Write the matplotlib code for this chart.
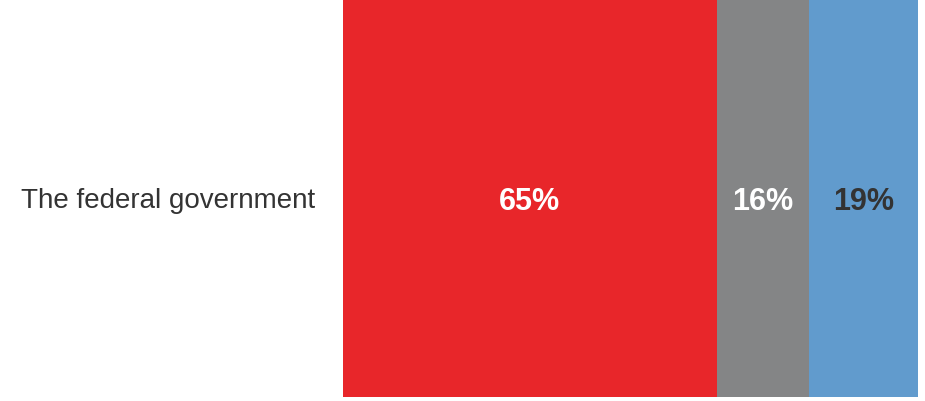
import matplotlib
matplotlib.use("Agg")
import matplotlib.pyplot as plt

plt.rcParams['font.family'] = ['Liberation Sans', 'DejaVu Sans']

# data
category = "The federal government"
shares = [65, 16, 19]
bar_colors = ['#E8262A', '#848586', '#619BCD']
text_colors = ['white', 'white', '#333333']

fig = plt.figure(figsize=(9.25, 4.01), dpi=100)
ax = fig.add_axes([343 / 925, 4 / 401, 575 / 925, 397 / 401])

left = 0
for val, col, tcol in zip(shares, bar_colors, text_colors):
    ax.barh(0, val, left=left, height=1.0, color=col, edgecolor='none')
    ax.text(left + val / 2, -0.01, f"{val}%", ha='center', va='center',
            fontsize=22, fontweight='bold', color=tcol)
    left += val

ax.set_xlim(0, sum(shares))
ax.set_ylim(-0.5, 0.5)
ax.set_xticks([])
ax.set_yticks([0])
ax.set_yticklabels([category], fontsize=20, color='#333333')
ax.tick_params(axis='y', length=0, pad=20)
for s in ax.spines.values():
    s.set_visible(False)

fig.savefig("out.png", dpi=100)
